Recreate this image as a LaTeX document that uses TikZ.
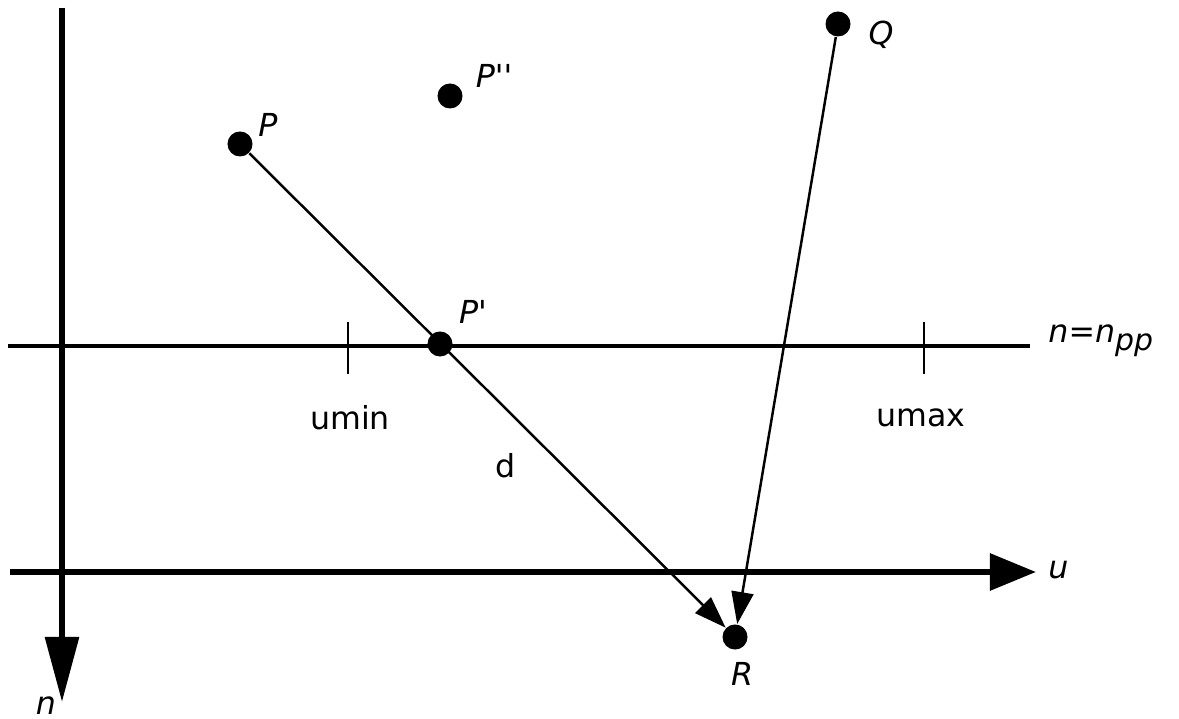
\documentclass[tikz,border=0pt]{standalone}
\usepackage{fontspec}
\setmainfont{DejaVu Sans}
\usetikzlibrary{arrows.meta}

\begin{document}
\begin{tikzpicture}[x=0.01cm, y=-0.01cm, >=Triangle,
    font=\fontsize{9}{11}\selectfont,
    pt/.style={circle, fill=black, inner sep=0pt, minimum size=0.25cm},
    lab/.style={font=\fontsize{9}{11}\selectfont\itshape}]
    \useasboundingbox (0,0) rectangle (1179,719);

    % Axes
    \coordinate (ntop) at (62, 8);
    \coordinate (nend) at (62, 702);
    \coordinate (uleft) at (10, 572);
    \coordinate (uend) at (1036, 572);
    \draw [line width=1.7pt, -{Triangle[length=0.65cm, width=0.33cm]}] (ntop) -- (nend);
    \draw [line width=1.7pt, -{Triangle[length=0.46cm, width=0.36cm]}] (uleft) -- (uend);
    \node [lab] (nlab) at (46, 706) {n};
    \node [lab, right] (ulab) at (1036, 570) {u};

    % Line n = n_pp
    \coordinate (ppleft) at (8, 346);
    \coordinate (ppright) at (1030, 346);
    \draw [line width=1.4pt] (ppleft) -- (ppright);
    \node [lab, right] (pplab) at (1036, 341) {n=n\raisebox{-0.45ex}{\fontsize{8.5}{10}\selectfont pp}};

    % Ticks
    \draw [line width=0.6pt] (348, 322) -- (348, 374);
    \draw [line width=0.6pt] (924, 322) -- (924, 374);
    \node (umin) at (350, 418) {umin};
    \node (umax) at (921, 418) {umax};

    % Points
    \node [pt] (P) at (240, 144) {};
    \node [pt] (Ppp) at (450, 96) {};
    \node [pt] (Pp) at (440, 344) {};
    \node [pt] (Q) at (838, 24) {};
    \node [pt] (R) at (735, 637) {};
    \node [lab] at (268, 125) {P};
    \node [lab] at (494, 76) {P\textquotesingle\textquotesingle};
    \node [lab] at (473, 312) {P\textquotesingle};
    \node [lab] at (881, 35) {Q};
    \node [lab] at (742, 674) {R};

    % Connectors
    \draw [line width=0.7pt, -{Triangle[length=0.32cm, width=0.22cm]}] (P) -- (R);
    \draw [line width=0.7pt, -{Triangle[length=0.32cm, width=0.22cm]}] (Q) -- (R);
    \node (d) at (506, 466) {d};
\end{tikzpicture}
\end{document}
